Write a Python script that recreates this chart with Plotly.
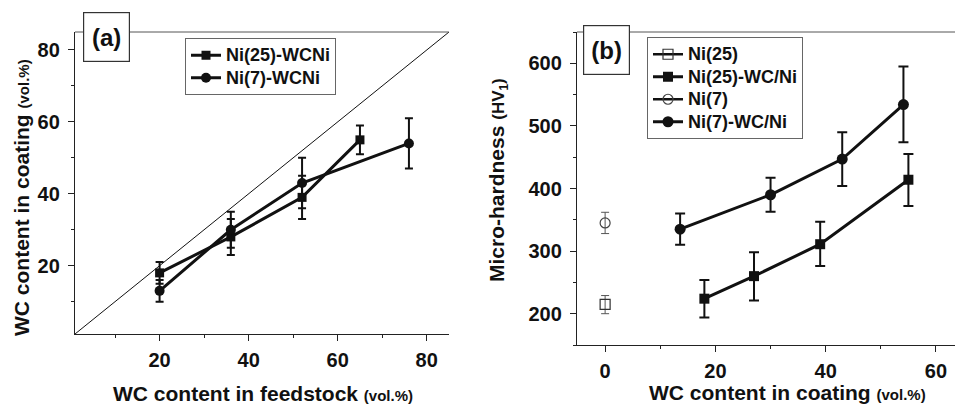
import plotly.graph_objects as go

# ---------------- data: panel (a) ----------------
a_feed_25 = [20, 36, 52, 65]
a_coat_25 = [18, 28, 39, 55]
a_err_25 = [3, 5, 6, 4]
a_feed_7 = [20, 36, 52, 76]
a_coat_7 = [13, 30, 43, 54]
a_err_7 = [3, 5, 7, 7]
a_range = [1, 85]

# ---------------- data: panel (b) ----------------
b_x_25 = [0]
b_y_25 = [215]
b_err_25_plus = [14]
b_err_25_minus = [15]
b_x_7 = [0]
b_y_7 = [345]
b_err_7_plus = [17]
b_err_7_minus = [17]
b_x_25wc = [18, 27, 39, 55]
b_y_25wc = [224, 260, 311, 414]
b_err_25wc_plus = [30, 38, 36, 41]
b_err_25wc_minus = [30, 39, 35, 42]
b_x_7wc = [13.6, 30, 43, 54.1]
b_y_7wc = [335, 390, 447, 534]
b_err_7wc_plus = [25, 27, 43, 61]
b_err_7wc_minus = [25, 27, 43, 60]

FONT = "Liberation Sans, Arial, sans-serif"
W, H = 955, 405
BLACK = "#111111"

fig = go.Figure()

def errbar(plus, minus=None, thick=2, width=4, color=BLACK):
    d = dict(type="data", array=plus, visible=True, color=color,
             thickness=thick, width=width)
    if minus is not None:
        d["symmetric"] = False
        d["arrayminus"] = minus
    return d

def lname(s):
    return f"<span style='font-size:18px'><b>{s}</b></span>"

# diagonal y = x line over the axis range
fig.add_trace(go.Scatter(x=a_range, y=a_range, mode="lines",
                         line=dict(color=BLACK, width=1), showlegend=False,
                         hoverinfo="skip", xaxis="x", yaxis="y"))

fig.add_trace(go.Scatter(x=a_feed_25, y=a_coat_25, mode="lines+markers",
                         name=lname("Ni(25)-WCNi"),
                         line=dict(color=BLACK, width=3),
                         marker=dict(symbol="square", size=9, color=BLACK),
                         error_y=errbar(a_err_25),
                         xaxis="x", yaxis="y", legend="legend"))
fig.add_trace(go.Scatter(x=a_feed_7, y=a_coat_7, mode="lines+markers",
                         name=lname("Ni(7)-WCNi"),
                         line=dict(color=BLACK, width=3),
                         marker=dict(symbol="circle", size=10, color=BLACK),
                         error_y=errbar(a_err_7),
                         xaxis="x", yaxis="y", legend="legend"))

# panel (b)
fig.add_trace(go.Scatter(x=b_x_25, y=b_y_25, mode="lines+markers",
                         name=lname("Ni(25)"),
                         line=dict(color=BLACK, width=2.5),
                         marker=dict(symbol="square-open", size=10, color="#333333",
                                     line=dict(width=1.2)),
                         error_y=errbar(b_err_25_plus, b_err_25_minus, thick=1, width=4,
                                        color="#555555"),
                         xaxis="x2", yaxis="y2", legend="legend2"))
fig.add_trace(go.Scatter(x=b_x_25wc, y=b_y_25wc, mode="lines+markers",
                         name=lname("Ni(25)-WC/Ni"),
                         line=dict(color=BLACK, width=3),
                         marker=dict(symbol="square", size=10, color=BLACK),
                         error_y=errbar(b_err_25wc_plus, b_err_25wc_minus, width=5),
                         xaxis="x2", yaxis="y2", legend="legend2"))
fig.add_trace(go.Scatter(x=b_x_7, y=b_y_7, mode="lines+markers",
                         name=lname("Ni(7)"),
                         line=dict(color=BLACK, width=2.5),
                         marker=dict(symbol="circle-open", size=10, color="#444444",
                                     line=dict(width=1.2)),
                         error_y=errbar(b_err_7_plus, b_err_7_minus, thick=1, width=4,
                                        color="#555555"),
                         xaxis="x2", yaxis="y2", legend="legend2"))
fig.add_trace(go.Scatter(x=b_x_7wc, y=b_y_7wc, mode="lines+markers",
                         name=lname("Ni(7)-WC/Ni"),
                         line=dict(color=BLACK, width=3),
                         marker=dict(symbol="circle", size=11, color=BLACK),
                         error_y=errbar(b_err_7wc_plus, b_err_7wc_minus, width=5),
                         xaxis="x2", yaxis="y2", legend="legend2"))

tickfont = dict(family=FONT, size=20, color=BLACK)

def axis(domain, rng, dtick, minor_dtick, anchor, standoff):
    return dict(domain=domain, range=rng, anchor=anchor, showgrid=False,
                zeroline=False, showline=True, linecolor="#222222", linewidth=1.3,
                ticks="outside", ticklen=6, tickwidth=1.3, tickcolor="#222222",
                tick0=0, dtick=dtick, tickfont=tickfont, tickprefix="<b>",
                ticksuffix="</b>", ticklabelstandoff=standoff,
                minor=dict(ticks="outside", ticklen=3, tickwidth=1.2,
                           tickcolor="#222222", dtick=minor_dtick, tick0=0,
                           showgrid=False))

xa = axis([75 / W, 449 / W], a_range, 20, 10, "y", 2)
ya = axis([1 - 334 / H, 1 - 32 / H], a_range, 20, 10, "x", 4)
xb = axis([577 / W, 1.0], [-5.1, 63.45], 20, 10, "y2", 2)
yb = axis([1 - 345 / H, 1 - 32 / H], [150, 650], 100, 50, "x2", 4)

legend_common = dict(bgcolor="white", bordercolor="#666666", borderwidth=1,
                     font=dict(family=FONT, size=15, color=BLACK),
                     xanchor="left", yanchor="top", tracegroupgap=0,
                     itemwidth=30)

fig.update_layout(
    width=W, height=H,
    margin=dict(l=0, r=0, t=0, b=0),
    paper_bgcolor="white", plot_bgcolor="white",
    showlegend=True,
    xaxis=xa, yaxis=ya, xaxis2=xb, yaxis2=yb,
    legend=dict(x=185 / W, y=1 - 38 / H, **legend_common),
    legend2=dict(x=647 / W, y=1 - 37 / H, **legend_common),
)

# top frame lines
for xr, yr in (("x domain", "y domain"), ("x2 domain", "y2 domain")):
    fig.add_shape(type="line", xref=xr, yref=yr, x0=0, x1=1, y0=1, y1=1,
                  line=dict(color="#555555", width=1))

small = "<span style='font-size:15px'><b>(vol.%)</b></span>"
title_font = dict(family=FONT, size=21, color=BLACK)

annots = [
    dict(text="<b>WC content in feedstock </b>" + small, x=263 / W, y=1 - 393 / H,
         textangle=0),
    dict(text="<b>WC content in coating </b>" + small, x=21 / W, y=1 - 198 / H,
         textangle=-90),
    dict(text="<b>WC content in coating </b>" + small, x=787 / W, y=1 - 392 / H,
         textangle=0),
    dict(text="<b>Micro-hardness </b><span style='font-size:17px'><b>(HV<sub>1</sub>)</b></span>",
         x=498 / W, y=1 - 180 / H, textangle=-90),
]
for a in annots:
    fig.add_annotation(xref="paper", yref="paper", xanchor="center", yanchor="middle",
                       showarrow=False, font=title_font, **a)

# panel labels
for lab, cx, cy in (("(a)", 106.5, 37.5), ("(b)", 606.7, 49.7)):
    fig.add_annotation(text=f"<b>{lab}</b>", xref="paper", yref="paper",
                       x=cx / W, y=1 - cy / H, xanchor="center", yanchor="middle",
                       showarrow=False, width=43, height=46, bgcolor="white",
                       bordercolor="#333333", borderwidth=1.2, borderpad=1,
                       font=dict(family=FONT, size=24, color=BLACK))

fig.write_html("out.html", config={"displayModeBar": False},
               post_script="document.body.style.margin='0';"
                           "document.body.style.overflow='hidden';")
